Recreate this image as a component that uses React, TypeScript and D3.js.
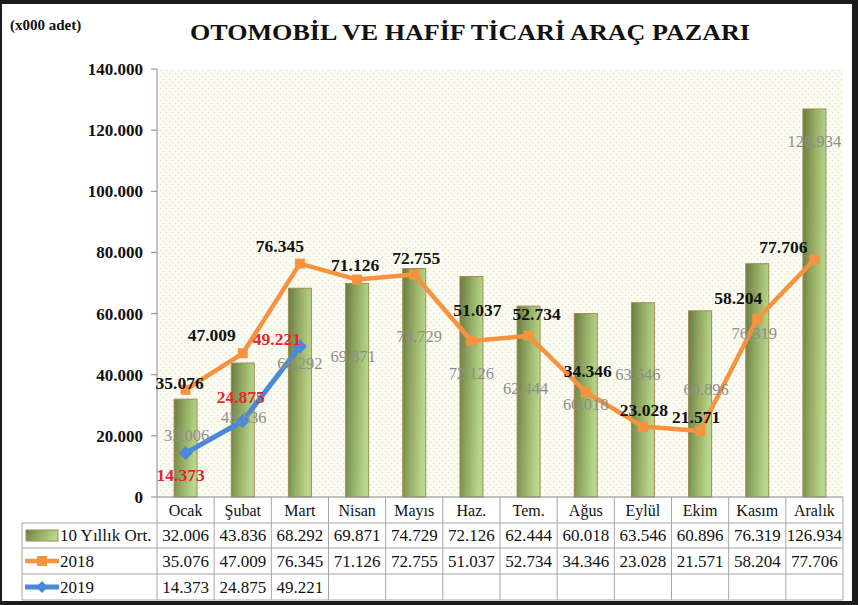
import React, { useEffect } from 'react'
import * as d3 from 'd3'

const months = ['Ocak', 'Şubat', 'Mart', 'Nisan', 'Mayıs', 'Haz.', 'Tem.', 'Ağus', 'Eylül', 'Ekim', 'Kasım', 'Aralık']
const avg10 = [32006, 43836, 68292, 69871, 74729, 72126, 62444, 60018, 63546, 60896, 76319, 126934]
const sales2018 = [35076, 47009, 76345, 71126, 72755, 51037, 52734, 34346, 23028, 21571, 58204, 77706]
const sales2019 = [14373, 24875, 49221]
const yTicks = [0, 20000, 40000, 60000, 80000, 100000, 120000, 140000]
const rowNames = ['10 Yıllık Ort.', '2018', '2019']

// hand-placed label offsets (px) as in the original
const avgLabelOffset = [[1, 36], [1, 54], [0, 75], [-4, 73], [5, 68], [0, 97], [-3, 82], [0, 91], [-5, 71], [6, 78], [-3, 70], [0, 32]]
const label2018Offset = [[-6, -7], [-31, -18], [-20, -18], [-2, -15], [2, -17], [6, -31], [8, -22], [2, -21], [1, -17], [-4, -14], [-19, -21], [-31, -13]]
const label2019Offset = [[-5, 22], [-2, -24], [-23, -8]]

const W = 858
const H = 605
const left = 157
const right = 843
const top = 69
const bottom = 497
const rowLines = [523, 548, 574, 600]
const tableLeft = 22

const FONT = "'Liberation Serif', 'Times New Roman', serif"
const ORANGE = '#f7923f'
const BLUE = '#4a88d9'
const RED = '#e3262a'
const GRAY = '#8e8e8e'

const trLocale = d3.formatLocale({ decimal: ',', thousands: '.', grouping: [3], currency: ['', ''] })
const fmt = trLocale.format(',d')

const serif = { fontFamily: FONT }

export default function App() {
  useEffect(() => {
    document.body.style.margin = '0'
  }, [])

  const x = d3.scaleBand<string>().domain(months).range([left, right]).paddingInner(0).paddingOuter(0)
  const y = d3.scaleLinear().domain([0, 140000]).range([bottom, top])
  const cx = (i: number) => (x(months[i]) as number) + x.bandwidth() / 2
  const barW = 23

  const line = d3
    .line<number>()
    .x((_, i) => cx(i))
    .y(d => y(d))

  const boundaries = months.map(m => x(m) as number).concat([right])
  const rowMid = (r: number) => (rowLines[r] + rowLines[r + 1]) / 2

  return (
    <svg width={W} height={H} style={{ display: 'block', fontFamily: FONT }}>
      <defs>
        <pattern id="dots" width="6" height="6" patternUnits="userSpaceOnUse">
          <rect width="6" height="6" fill="#fdfcf3" />
          <circle cx="1.5" cy="1.5" r="0.8" fill="#e6e2d0" />
          <circle cx="4.5" cy="4.5" r="0.8" fill="#e6e2d0" />
        </pattern>
        <linearGradient id="barGrad" x1="0" y1="0" x2="1" y2="0.25">
          <stop offset="0" stopColor="#6c7a40" />
          <stop offset="0.55" stopColor="#97b268" />
          <stop offset="1" stopColor="#b9d78c" />
        </linearGradient>
      </defs>

      <rect width={W} height={H} fill="#1c1c1c" />
      <rect x={2} y={4} width={850} height={597} fill="#ffffff" />

      {/* titles */}
      <text x={10} y={30} fontSize={15} fontWeight="bold" fill="#111" style={serif}>(x000 adet)</text>
      <text x={190} y={40} fontSize={23} fontWeight="bold" fill="#111" textLength={560} lengthAdjust="spacingAndGlyphs" style={serif}>
        OTOMOBİL VE HAFİF TİCARİ  ARAÇ PAZARI
      </text>

      {/* plot background */}
      <rect x={left} y={top} width={right - left} height={bottom - top} fill="url(#dots)" />

      {/* y axis */}
      <line x1={left} x2={left} y1={top} y2={bottom} stroke="#8a8a8a" />
      {yTicks.map(t => (
        <g key={t}>
          <line x1={left - 6} x2={left} y1={y(t)} y2={y(t)} stroke="#8a8a8a" />
          <text x={143} y={y(t)} dy="0.35em" textAnchor="end" fontSize={17} fontWeight="bold" fill="#111" style={serif}>
            {fmt(t)}
          </text>
        </g>
      ))}

      {/* bars */}
      {avg10.map((v, i) => (
        <rect
          key={i}
          x={cx(i) - barW / 2}
          y={y(v)}
          width={barW}
          height={bottom - y(v)}
          fill="url(#barGrad)"
          stroke="#a08d55"
          strokeWidth={1}
        />
      ))}

      {/* 2018 line */}
      <path d={line(sales2018) || ''} fill="none" stroke={ORANGE} strokeWidth={4.5} strokeLinejoin="round" />
      {sales2018.map((v, i) => (
        <rect key={i} x={cx(i) - 5} y={y(v) - 5} width={10} height={10} fill={ORANGE} />
      ))}

      {/* 2019 line */}
      <path d={line(sales2019) || ''} fill="none" stroke={BLUE} strokeWidth={5} strokeLinejoin="round" />
      {sales2019.map((v, i) => (
        <path
          key={i}
          d={`M${cx(i)},${y(v) - 7}L${cx(i) + 7},${y(v)}L${cx(i)},${y(v) + 7}L${cx(i) - 7},${y(v)}Z`}
          fill={BLUE}
        />
      ))}

      {/* labels */}
      {avg10.map((v, i) => (
        <text key={i} x={cx(i) + avgLabelOffset[i][0]} y={y(v) + avgLabelOffset[i][1]} dy="0.35em"
          textAnchor="middle" fontSize={16.5} fill={GRAY} style={serif}>
          {fmt(v)}
        </text>
      ))}
      {sales2018.map((v, i) => (
        <text key={i} x={cx(i) + label2018Offset[i][0]} y={y(v) + label2018Offset[i][1]} dy="0.35em"
          textAnchor="middle" fontSize={17.5} fontWeight="bold" fill="#111" style={serif}>
          {fmt(v)}
        </text>
      ))}
      {sales2019.map((v, i) => (
        <text key={i} x={cx(i) + label2019Offset[i][0]} y={y(v) + label2019Offset[i][1]} dy="0.35em"
          textAnchor="middle" fontSize={17.5} fontWeight="bold" fill={RED} style={serif}>
          {fmt(v)}
        </text>
      ))}

      {/* data table */}
      <g stroke="#a6a6a6" strokeWidth={1}>
        <line x1={left} x2={right} y1={bottom} y2={bottom} stroke="#8a8a8a" />
        {rowLines.map(r => (
          <line key={r} x1={tableLeft} x2={right} y1={r} y2={r} />
        ))}
        <line x1={tableLeft} x2={tableLeft} y1={rowLines[0]} y2={rowLines[3]} />
        {boundaries.map((b, i) => (
          <line key={i} x1={b} x2={b} y1={bottom} y2={rowLines[3]} />
        ))}
      </g>
      {months.map((m, i) => (
        <text key={m} x={cx(i)} y={(bottom + rowLines[0]) / 2} dy="0.35em" textAnchor="middle" fontSize={16} fill="#111" style={serif}>
          {m}
        </text>
      ))}

      {/* legend keys */}
      <rect x={26} y={530} width={32} height={11} fill="url(#barGrad)" stroke="#a08d55" />
      <line x1={25} x2={59} y1={rowMid(1)} y2={rowMid(1)} stroke={ORANGE} strokeWidth={4.5} />
      <rect x={37} y={rowMid(1) - 5} width={10} height={10} fill={ORANGE} />
      <line x1={25} x2={59} y1={rowMid(2)} y2={rowMid(2)} stroke={BLUE} strokeWidth={5} />
      <path d={`M42,${rowMid(2) - 6}L48,${rowMid(2)}L42,${rowMid(2) + 6}L36,${rowMid(2)}Z`} fill={BLUE} />

      {rowNames.map((t, r) => (
        <text key={t} x={60} y={rowMid(r)} dy="0.35em" fontSize={17} fill="#111" style={serif}>{t}</text>
      ))}
      {[avg10, sales2018, sales2019].map((series, r) =>
        series.map((v, i) => (
          <text key={`${r}-${i}`} x={cx(i)} y={rowMid(r)} dy="0.35em" textAnchor="middle" fontSize={17} fill="#111" style={serif}>
            {fmt(v)}
          </text>
        ))
      )}
    </svg>
  )
}
